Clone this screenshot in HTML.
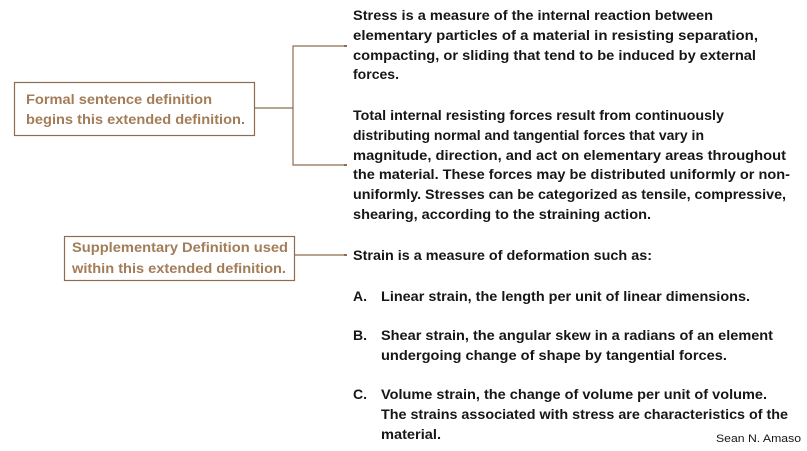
<!DOCTYPE html>
<html><head><meta charset="utf-8"><style>
html,body{margin:0;padding:0;background:#fff;width:807px;height:451px;overflow:hidden}
svg{display:block}
.t{font-family:"Liberation Sans",sans-serif;font-size:14px;font-weight:bold;fill:#161616}
.b{font-family:"Liberation Sans",sans-serif;font-size:14px;font-weight:bold;fill:#a37c58}
</style></head><body>
<svg width="807" height="451" viewBox="0 0 807 451" xmlns="http://www.w3.org/2000/svg">
<g fill="none" stroke="#8f6c4f" stroke-width="1.2">
<rect x="14.5" y="82.5" width="240" height="53"/>
<rect x="64.5" y="236.5" width="230" height="44"/>
<polyline points="255,108 293,108"/>
<polyline points="346,46 293,46 293,165 346,165"/>
<line x1="294" y1="255" x2="346" y2="255"/>
</g>
<g fill="#8f6c4f"><rect x="344" y="45" width="3" height="2"/><rect x="344" y="164" width="3" height="2"/><rect x="344" y="254" width="3" height="2"/></g>
<text class="b" x="26" y="104" textLength="186" lengthAdjust="spacingAndGlyphs">Formal sentence definition</text>
<text class="b" x="26" y="124" textLength="219" lengthAdjust="spacingAndGlyphs">begins this extended definition.</text>
<text class="b" x="72" y="252" textLength="216" lengthAdjust="spacingAndGlyphs">Supplementary Definition used</text>
<text class="b" x="72" y="273" textLength="214" lengthAdjust="spacingAndGlyphs">within this extended definition.</text>
<g class="t">
<text x="353" y="20" textLength="360" lengthAdjust="spacingAndGlyphs">Stress is a measure of the internal reaction between</text>
<text x="353" y="40" textLength="405" lengthAdjust="spacingAndGlyphs">elementary particles of a material in resisting separation,</text>
<text x="353" y="60" textLength="403" lengthAdjust="spacingAndGlyphs">compacting, or sliding that tend to be induced by external</text>
<text x="353" y="79" textLength="46" lengthAdjust="spacingAndGlyphs">forces.</text>
<text x="353" y="120" textLength="371" lengthAdjust="spacingAndGlyphs">Total internal resisting forces result from continuously</text>
<text x="353" y="140" textLength="351" lengthAdjust="spacingAndGlyphs">distributing normal and tangential forces that vary in</text>
<text x="353" y="160" textLength="433" lengthAdjust="spacingAndGlyphs">magnitude, direction, and act on elementary areas throughout</text>
<text x="353" y="179" textLength="437" lengthAdjust="spacingAndGlyphs">the material. These forces may be distributed uniformly or non-</text>
<text x="353" y="199" textLength="433" lengthAdjust="spacingAndGlyphs">uniformly. Stresses can be categorized as tensile, compressive,</text>
<text x="353" y="219" textLength="298" lengthAdjust="spacingAndGlyphs">shearing, according to the straining action.</text>
<text x="353" y="260" textLength="299" lengthAdjust="spacingAndGlyphs">Strain is a measure of deformation such as:</text>
<text x="353" y="301">A.</text>
<text x="381" y="301" textLength="369" lengthAdjust="spacingAndGlyphs">Linear strain, the length per unit of linear dimensions.</text>
<text x="353" y="340">B.</text>
<text x="381" y="340" textLength="392" lengthAdjust="spacingAndGlyphs">Shear strain, the angular skew in a radians of an element</text>
<text x="381" y="360" textLength="346" lengthAdjust="spacingAndGlyphs">undergoing change of shape by tangential forces.</text>
<text x="353" y="399">C.</text>
<text x="381" y="399" textLength="386" lengthAdjust="spacingAndGlyphs">Volume strain, the change of volume per unit of volume.</text>
<text x="381" y="419" textLength="407" lengthAdjust="spacingAndGlyphs">The strains associated with stress are characteristics of the</text>
<text x="381" y="439" textLength="60" lengthAdjust="spacingAndGlyphs">material.</text>
</g>
<text x="716" y="442" font-family="Liberation Sans, sans-serif" font-size="11" fill="#161616" textLength="85" lengthAdjust="spacingAndGlyphs">Sean N. Amaso</text>
</svg>
</body></html>
